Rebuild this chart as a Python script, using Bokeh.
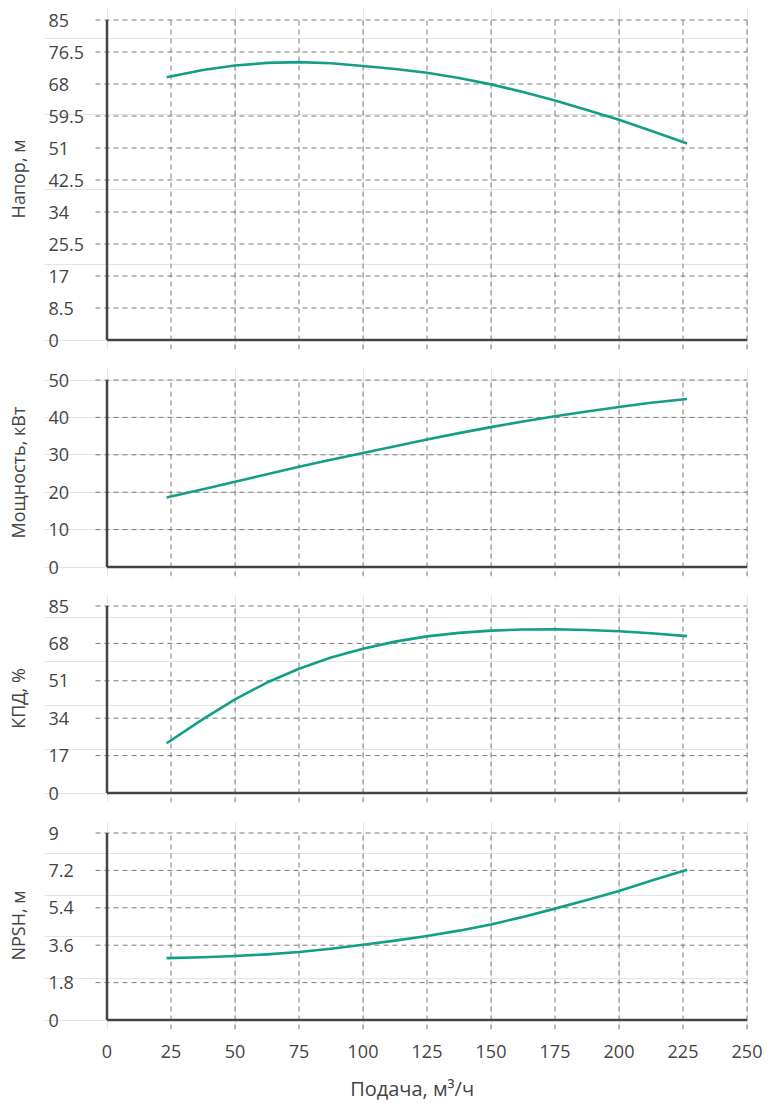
import numpy as np
from bokeh.plotting import figure
from bokeh.layouts import column
from bokeh.models import Range1d, LinearAxis, FixedTicker
from bokeh.core.properties import value
from bokeh.embed import file_html
from bokeh.resources import INLINE

# ---------------- data ----------------
flow = [23.3, 37.5, 50, 62.5, 75, 87.5, 100, 112.5, 125, 137.5, 150, 162.5, 175, 187.5, 200, 212.5, 226.6]
head = [69.8, 71.7, 72.9, 73.6, 73.8, 73.5, 72.8, 72.0, 71.0, 69.6, 67.9, 65.9, 63.6, 61.1, 58.5, 55.6, 52.2]
power = [18.6, 20.8, 22.8, 24.8, 26.8, 28.7, 30.5, 32.3, 34.1, 35.8, 37.4, 38.9, 40.3, 41.6, 42.8, 43.9, 44.9]
efficiency = [22.6, 33.6, 42.6, 50.2, 56.5, 61.6, 65.6, 68.8, 71.2, 72.8, 73.8, 74.3, 74.4, 74.1, 73.5, 72.6, 71.3]
npsh = [2.98, 3.02, 3.08, 3.16, 3.27, 3.43, 3.62, 3.82, 4.04, 4.30, 4.60, 4.96, 5.36, 5.77, 6.21, 6.70, 7.23]

x_ticks = [0, 25, 50, 75, 100, 125, 150, 175, 200, 225, 250]
head_ticks = [0, 8.5, 17, 25.5, 34, 42.5, 51, 59.5, 68, 76.5, 85]
head_labels = ["0", "8.5", "17", "25.5", "34", "42.5", "51", "59.5", "68", "76.5", "85"]
power_ticks = [0, 10, 20, 30, 40, 50]
power_labels = ["0", "10", "20", "30", "40", "50"]
eff_ticks = [0, 17, 34, 51, 68, 85]
eff_labels = ["0", "17", "34", "51", "68", "85"]
npsh_ticks = [0, 1.8, 3.6, 5.4, 7.2, 9]
npsh_labels = ["0", "1.8", "3.6", "5.4", "7.2", "9"]

titles = ["Напор, м", "Мощность, кВт", "КПД, %", "NPSH, м"]
x_title = "Подача, м³/ч"

# ---------------- style / layout ----------------
FONT = "Open Sans"
TEXT = "#444444"
CURVE = "#139e87"
GRID = "#7a7a7a"
AXIS = "#444444"
FS = "18px"
DASH = "5 4"
XTITLE_PAD = "\u00a0" * 6   # nudges the centred x title to the right

W = 762
BORDER_L = 44
FRAME_W = 704
ZERO_PX = 62.5        # x=0 from frame left
SPAN_PX = 640         # 0..250 width
PAD_TOP = 11.5
PAD_BOT = 9.5
X_MAX = x_ticks[-1]
upx = X_MAX / SPAN_PX
x_start = -ZERO_PX * upx
x_end = x_start + FRAME_W * upx
label_x = x_start + 4 * upx
grid_x0 = x_start + 51 * upx


def panel(ys, ticks, labels, title, span_px, border_top, border_bottom, bottom_axis=False):
    top = ticks[-1]
    uy = top / span_px
    y_start = -PAD_BOT * uy
    y_end = top + PAD_TOP * uy
    frame_h = int(span_px + PAD_TOP + PAD_BOT)
    p = figure(width=W, height=border_top + frame_h + border_bottom,
               x_range=Range1d(x_start, x_end), y_range=Range1d(y_start, y_end),
               x_axis_location=None, y_axis_location=None,
               toolbar_location=None, output_backend="svg",
               min_border_left=BORDER_L, min_border_right=W - BORDER_L - FRAME_W,
               min_border_top=border_top, min_border_bottom=border_bottom)
    p.outline_line_color = None
    p.background_fill_color = "white"
    p.border_fill_color = "white"

    # y title (axis with no ticks)
    yax = LinearAxis(ticker=FixedTicker(ticks=[]), axis_label=title,
                     axis_line_color=None, major_tick_line_color=None,
                     minor_tick_line_color=None, major_tick_in=0, major_tick_out=0,
                     axis_label_standoff=15, axis_label_text_font=FONT,
                     axis_label_text_font_size=FS, axis_label_text_font_style="normal",
                     axis_label_text_color=TEXT)
    p.add_layout(yax, "left")

    # dashed grid
    hy = [t for t in ticks if t != 0]
    p.segment(x0=[grid_x0] * len(hy), y0=hy, x1=[X_MAX] * len(hy), y1=hy,
              line_color=GRID, line_width=1, line_dash=DASH)
    vx = [t for t in x_ticks if t != 0]
    p.segment(x0=vx, y0=[y_start] * len(vx), x1=vx, y1=[top] * len(vx),
              line_color=GRID, line_width=1, line_dash=DASH)

    # axis lines
    p.segment(x0=[0, 0], y0=[0, 0], x1=[0, X_MAX], y1=[top, 0],
              line_color=AXIS, line_width=2.5)

    # tick labels (left aligned)
    p.text(x=[label_x] * len(ticks), y=ticks, text=labels,
           text_align="left", text_baseline="middle",
           text_font=value(FONT), text_font_size=FS, text_color=TEXT)

    # curve
    p.line(flow, ys, line_color=CURVE, line_width=2.6, line_join="round")

    if bottom_axis:
        xax = LinearAxis(ticker=FixedTicker(ticks=x_ticks), axis_label=XTITLE_PAD + x_title,
                         axis_line_color=None, major_tick_line_color=None,
                         minor_tick_line_color=None, major_tick_in=0, major_tick_out=0,
                         major_label_standoff=15,
                         major_label_text_font=FONT, major_label_text_font_size=FS,
                         major_label_text_color=TEXT,
                         axis_label_standoff=14, axis_label_text_font=FONT,
                         axis_label_text_font_size="20px", axis_label_text_font_style="normal",
                         axis_label_text_color=TEXT)
        p.add_layout(xax, "below")
    return p


p1 = panel(head, head_ticks, head_labels, titles[0], 320, 8, 19)
p2 = panel(power, power_ticks, power_labels, titles[1], 187, 0, 18)
p3 = panel(efficiency, eff_ticks, eff_labels, titles[2], 187, 0, 19)
p4 = panel(npsh, npsh_ticks, npsh_labels, titles[3], 187, 0, 75, bottom_axis=True)

layout = column(p1, p2, p3, p4, spacing=0)

open("out.html", "w").write(file_html(layout, INLINE))
